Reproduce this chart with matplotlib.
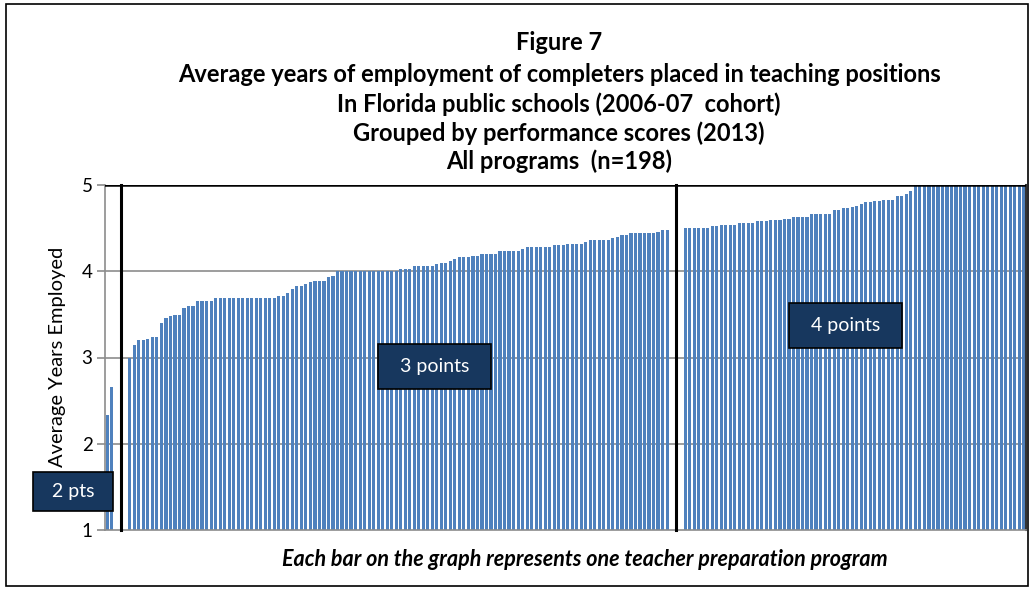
import matplotlib
matplotlib.use("Agg")
import matplotlib.pyplot as plt
from matplotlib.patches import Rectangle
import numpy as np

# ---------------- data ----------------
group_labels = ["2 pts", "3 points", "4 points"]

pts2_values = [2.33, 2.66]

pts3_values = [
    3.00, 3.14, 3.20, 3.20, 3.22, 3.24, 3.24, 3.40, 3.46, 3.48,
    3.49, 3.49, 3.57, 3.60, 3.60, 3.65, 3.65, 3.65, 3.65, 3.69,
    3.69, 3.69, 3.69, 3.69, 3.69, 3.69, 3.69, 3.69, 3.69, 3.69,
    3.69, 3.69, 3.69, 3.71, 3.71, 3.75, 3.79, 3.83, 3.83, 3.85,
    3.87, 3.89, 3.89, 3.89, 3.93, 3.95, 4.00, 4.00, 4.00, 4.00,
    4.00, 4.00, 4.00, 4.00, 4.00, 4.00, 4.00, 4.00, 4.00, 4.00,
    4.03, 4.03, 4.03, 4.06, 4.06, 4.06, 4.06, 4.06, 4.08, 4.10,
    4.10, 4.12, 4.14, 4.16, 4.16, 4.16, 4.18, 4.18, 4.20, 4.20,
    4.20, 4.20, 4.24, 4.24, 4.24, 4.24, 4.24, 4.26, 4.28, 4.28,
    4.28, 4.28, 4.28, 4.28, 4.30, 4.30, 4.31, 4.32, 4.32, 4.32,
    4.32, 4.34, 4.36, 4.36, 4.36, 4.36, 4.36, 4.38, 4.40, 4.42,
    4.42, 4.44, 4.44, 4.44, 4.44, 4.44, 4.44, 4.46, 4.48, 4.48,
]

pts4_values = [
    4.50, 4.50, 4.50, 4.50, 4.50, 4.50, 4.52, 4.52, 4.54, 4.54,
    4.54, 4.54, 4.56, 4.56, 4.56, 4.56, 4.58, 4.58, 4.58, 4.59,
    4.59, 4.59, 4.61, 4.61, 4.63, 4.63, 4.63, 4.63, 4.66, 4.66,
    4.66, 4.66, 4.66, 4.71, 4.71, 4.73, 4.73, 4.75, 4.76, 4.78,
    4.80, 4.80, 4.81, 4.81, 4.83, 4.83, 4.83, 4.87, 4.87, 4.89,
    4.93, 5.00, 5.00, 5.00, 5.00, 5.00, 5.00, 5.00, 5.00, 5.00,
    5.00, 5.00, 5.00, 5.00, 5.00, 5.00, 5.00, 5.00, 5.00, 5.00,
    5.00, 5.00, 5.00, 5.00, 5.00, 5.00,
]

y_ticks = [1, 2, 3, 4, 5]

title_lines = [
    "Figure 7",
    "Average years of employment of completers placed in teaching positions",
    "In Florida public schools (2006-07  cohort)",
    "Grouped by performance scores (2013)",
    "All programs  (n=198)",
]
y_label = "Average Years Employed"
caption = "Each bar on the graph represents one teacher preparation program"

# ---------------- style ----------------
FONT = ["Lato", "DejaVu Sans"]
plt.rcParams["font.family"] = FONT
BAR = "#4F81BD"
BOX = "#17375E"
GRID = "#8C8C8C"

W, H = 1031, 589
fig = plt.figure(figsize=(W / 100, H / 100), dpi=100)

def fx(px):
    return px / W

def fy(py):
    return 1 - py / H

ax = fig.add_axes([fx(105), fy(530), fx(1026) - fx(105), fy(185) - fy(530)])

gap = 3
groups = [pts2_values, pts3_values, pts4_values]
positions = []
vals = []
start = 0
seps = []
for gi, g in enumerate(groups):
    positions.extend(range(start, start + len(g)))
    vals.extend(g)
    start += len(g)
    if gi < len(groups) - 1:
        seps.append(start + (gap - 1) / 2)
        start += gap
n_slots = start

ax.bar(positions, np.array(vals) - 1, bottom=1, width=0.7, color=BAR,
       edgecolor="none", zorder=2)

ax.set_xlim(-0.5, n_slots - 0.5)
ax.set_ylim(1, 5)
ax.set_yticks(y_ticks)
ax.set_yticklabels([str(t) for t in y_ticks], fontsize=13.5)
ax.set_xticks([])
ax.tick_params(axis="y", length=6, width=1.2, color=GRID, pad=3)
for y in [2, 3, 4]:
    ax.axhline(y, color=GRID, lw=1.2, zorder=1)
ax.axhline(5, color="black", lw=1.8, zorder=3)
for s in seps:
    ax.plot([s, s], [1, 5], color="black", lw=2.2, zorder=4, clip_on=False)

for name in ["left", "bottom"]:
    ax.spines[name].set_color(GRID)
    ax.spines[name].set_linewidth(1.2)
ax.spines["top"].set_visible(False)
ax.spines["right"].set_color("#333333")
ax.spines["right"].set_linewidth(1.5)

# titles
title_y = [42, 75, 104, 133, 161]
for t, yy in zip(title_lines, title_y):
    fig.text(fx(559), fy(yy), t, ha="center", va="center", fontsize=17,
             fontweight="bold", color="black")

fig.text(fx(58), fy(357), y_label, rotation=90, ha="center", va="center",
         fontsize=14.5)
fig.text(fx(585), fy(559), caption, ha="center", va="center", fontsize=15.5,
         fontweight="bold", fontstyle="italic")

# label boxes
boxes = [(33, 472, 113, 511), (378, 344, 491, 389), (789, 303, 902, 348)]
for lab, (x0, y0, x1, y1) in zip(group_labels, boxes):
    fig.patches.append(Rectangle((fx(x0), fy(y1)), fx(x1) - fx(x0), fy(y0) - fy(y1),
                                 transform=fig.transFigure, facecolor=BOX,
                                 edgecolor="black", lw=1.2, zorder=10))
    fig.text(fx((x0 + x1) / 2), fy((y0 + y1) / 2), lab, ha="center", va="center",
             color="white", fontsize=14, zorder=11)

# outer frame
fig.patches.append(Rectangle((fx(6), fy(586)), fx(1028) - fx(6), fy(4) - fy(586),
                             transform=fig.transFigure, facecolor="none",
                             edgecolor="black", lw=1.2, zorder=20))

fig.savefig("out.png", dpi=100)
